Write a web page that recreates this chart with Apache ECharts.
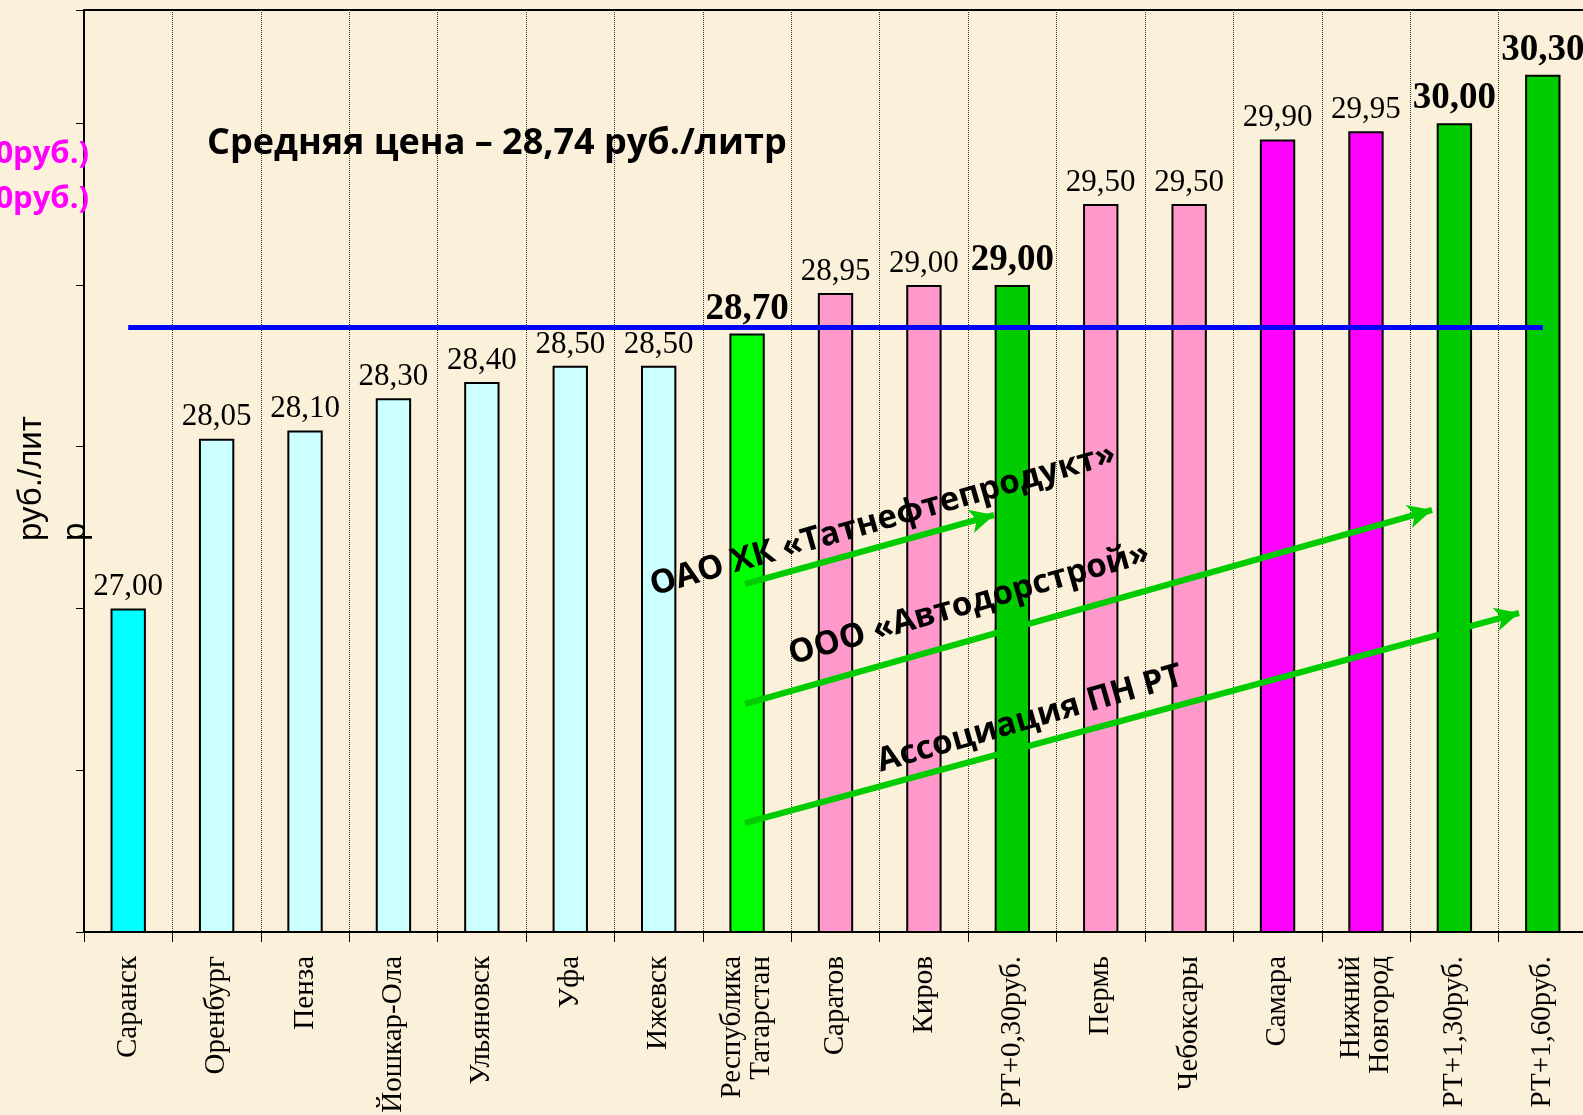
<!DOCTYPE html>
<html>
<head>
<meta charset="utf-8">
<script src="https://cdn.jsdelivr.net/npm/echarts@6/dist/echarts.min.js"></script>
<style>
  html, body { margin: 0; padding: 0; background: #fbf0d9; }
  #chart { width: 1583px; height: 1115px; }
</style>
</head>
<body>
<div id="chart"></div>
<script>
// города / цены
var cities = ['Саранск', 'Оренбург', 'Пенза', 'Йошкар-Ола', 'Ульяновск', 'Уфа', 'Ижевск',
  'Республика\nТатарстан', 'Саратов', 'Киров', 'РТ+0,30руб.', 'Пермь', 'Чебоксары',
  'Самара', 'Нижний\nНовгород', 'РТ+1,30руб.', 'РТ+1,60руб.'];
var prices = [27.00, 28.05, 28.10, 28.30, 28.40, 28.50, 28.50, 28.70, 28.95, 29.00,
  29.00, 29.50, 29.50, 29.90, 29.95, 30.00, 30.30];
var avgPrice = 28.74;

// цвета столбцов
var barColors = ['#00ffff', '#ccffff', '#ccffff', '#ccffff', '#ccffff', '#ccffff', '#ccffff',
  '#00ff00', '#ff99cc', '#ff99cc', '#00cc00', '#ff99cc', '#ff99cc',
  '#ff00ff', '#ff00ff', '#00cc00', '#00cc00'];
// выделенные (жирные) подписи
var boldIdx = [7, 10, 15, 16];

var fmt = function (v) { return v.toFixed(2).replace('.', ','); };

var chart = echarts.init(document.getElementById('chart'));

var barData = prices.map(function (v, i) {
  var bold = boldIdx.indexOf(i) >= 0;
  return {
    value: v,
    itemStyle: { color: barColors[i] },
    label: bold ? { fontWeight: 'bold', fontSize: 37 } : {}
  };
});

var arrowStyle = { color: '#00cc00', width: 6, type: 'solid' };
var rot = 16 * Math.PI / 180;

var option = {
  backgroundColor: '#fbf0d9',
  animation: false,
  grid: {
    left: 84, right: -4, top: 10, bottom: 183,
    outerBoundsMode: 'none',
    show: true, borderColor: '#000', borderWidth: 2, backgroundColor: 'transparent'
  },
  xAxis: {
    type: 'category',
    data: cities,
    axisLine: { lineStyle: { color: '#000', width: 2 } },
    axisTick: { show: true, length: 10, inside: false, lineStyle: { color: '#000', width: 1 } },
    splitLine: { show: true, lineStyle: { color: '#333', width: 1, type: 'dotted' } },
    axisLabel: {
      interval: 0, rotate: 90, margin: 24,
      fontFamily: 'Liberation Serif', fontSize: 29, color: '#000', lineHeight: 29
    }
  },
  yAxis: {
    type: 'value',
    min: 25, max: 30.7, interval: 1,
    axisLine: { show: true, lineStyle: { color: '#000', width: 2 } },
    axisTick: { show: true, length: 8, lineStyle: { color: '#000', width: 1 } },
    axisLabel: { show: false },
    splitLine: { show: false }
  },
  series: [{
    type: 'bar',
    data: barData,
    barWidth: '40%',
    itemStyle: { borderColor: '#000', borderWidth: 2 },
    label: {
      show: true, position: 'top', distance: 6,
      fontFamily: 'Liberation Serif', fontSize: 31, color: '#000',
      formatter: function (p) { return fmt(p.value); }
    },
    markLine: {
      silent: true,
      symbol: 'none',
      label: { show: false },
      lineStyle: { color: '#0000ff', width: 5, type: 'solid' },
      data: [
        [{ coord: [0, avgPrice] }, { coord: [cities.length - 1, avgPrice] }],
        [{ x: 745, y: 584, lineStyle: arrowStyle, symbol: 'none' },
         { x: 994, y: 515, lineStyle: arrowStyle, symbol: 'arrow', symbolSize: [18, 24] }],
        [{ x: 745, y: 704, lineStyle: arrowStyle, symbol: 'none' },
         { x: 1432, y: 510, lineStyle: arrowStyle, symbol: 'arrow', symbolSize: [18, 24] }],
        [{ x: 745, y: 823, lineStyle: arrowStyle, symbol: 'none' },
         { x: 1519, y: 613, lineStyle: arrowStyle, symbol: 'arrow', symbolSize: [18, 24] }]
      ]
    }
  }],
  graphic: [
    {
      type: 'text', x: 54, y: 541, rotation: Math.PI / 2, z: 100,
      style: { text: 'руб./лит\nр', font: '33px "Liberation Sans"', fill: '#000', lineHeight: 44,
        textAlign: 'left', textVerticalAlign: 'middle' }
    },
    {
      type: 'text', left: 207, top: 126, z: 100,
      style: { text: 'Средняя цена – 28,74 руб./литр', font: 'bold 36px "Open Sans"', fill: '#000' }
    },
    {
      type: 'text', right: 1494, top: 139, z: 100,
      style: { text: '0руб.)', font: 'bold 31px "Open Sans"', fill: '#ff00ff' }
    },
    {
      type: 'text', right: 1494, top: 184, z: 100,
      style: { text: '0руб.)', font: 'bold 31px "Open Sans"', fill: '#ff00ff' }
    },
    {
      type: 'text', x: 883, y: 520, rotation: rot, z: 100,
      style: { text: 'ОАО ХК «Татнефтепродукт»', font: 'bold 33px "Open Sans"', fill: '#000',
        textAlign: 'center', textVerticalAlign: 'middle' }
    },
    {
      type: 'text', x: 969, y: 604, rotation: rot, z: 100,
      style: { text: 'ООО «Автодорстрой»', font: 'bold 33px "Open Sans"', fill: '#000',
        textAlign: 'center', textVerticalAlign: 'middle' }
    },
    {
      type: 'text', x: 1030, y: 719, rotation: rot, z: 100,
      style: { text: 'Ассоциация ПН РТ', font: 'bold 33px "Open Sans"', fill: '#000',
        textAlign: 'center', textVerticalAlign: 'middle' }
    }
  ]
};

chart.setOption(option);
</script>
</body>
</html>
